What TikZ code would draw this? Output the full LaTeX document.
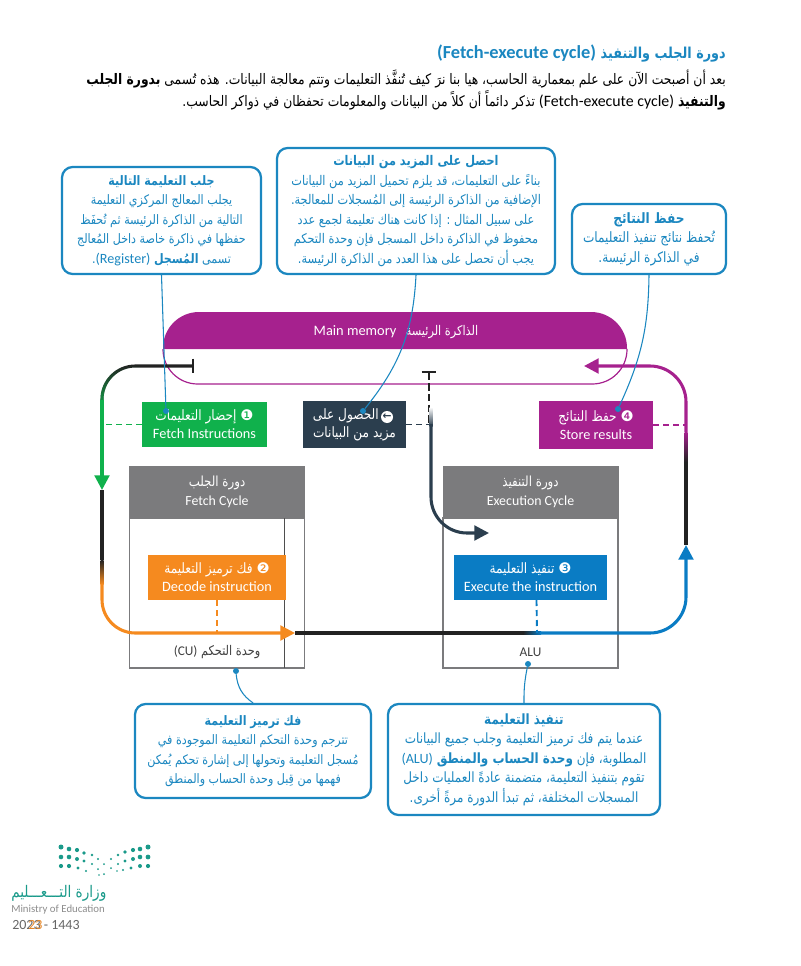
\documentclass[tikz,border=0pt]{standalone}
\usepackage{fontspec}
\setmainfont{Carlito}
\newfontfamily\arabicfont[Script=Arabic,FakeStretch=0.85]{DejaVu Sans}
\newfontfamily\symfont{DejaVu Sans}
\usetikzlibrary{arrows.meta, positioning, calc, fadings}
\TeXXeTstate=1
\setlength{\lineskiplimit}{-30pt}

\definecolor{calloutblue}{HTML}{1B87C0}
\definecolor{fetchgreen}{HTML}{10B14C}
\definecolor{decodeorange}{HTML}{F58A1F}
\definecolor{executeblue}{HTML}{0A7CC4}
\definecolor{storepurple}{HTML}{A6218E}
\definecolor{datadark}{HTML}{2B3E4E}
\definecolor{loopblack}{HTML}{222222}
\definecolor{cyclegray}{HTML}{7B7B7D}
\definecolor{logoteal}{HTML}{1A9A8A}
\newcommand{\pxu}{0.75pt}
\newcommand{\ar}[1]{{\arabicfont\beginR #1\endR}}
\newcommand{\la}[1]{\beginL{\normalfont #1}\endL{}}
\newcommand{\bd}[1]{{\symfont\fontsize{11}{11}\selectfont #1}}

\begin{document}
\begin{tikzpicture}[
    x=0.75pt, y=-0.75pt,
    infobox/.style={
        draw=calloutblue, line width=1.7pt, rounded corners=8pt,
        fill=white, align=center, text=calloutblue, inner sep=0pt
    },
    stepbox/.style={
        align=center, text=white, inner sep=0pt, outer sep=0pt,
        font=\fontsize{10.7}{13.5}\selectfont
    },
    cyclehead/.style={
        fill=cyclegray, draw=cyclegray, align=center, text=white,
        minimum width=175*\pxu, minimum height=52*\pxu,
        inner sep=0pt, outer sep=0pt,
        font=\fontsize{10.4}{14}\selectfont
    },
    cyclebody/.style={
        draw=cyclegray, line width=0.9pt, fill=white,
        minimum width=175*\pxu, minimum height=150*\pxu,
        inner sep=0pt, outer sep=0pt
    },
    unitlabel/.style={
        text=black!75, inner sep=0pt, font=\fontsize{10}{12}\selectfont
    },
    loopline/.style={line width=2.3pt},
    looparrow/.style={
        line width=2.3pt, -{Triangle[length=11pt, width=11pt]}
    },
    dashline/.style={line width=1.4pt, dash pattern=on 4.5pt off 3pt},
    callline/.style={draw=calloutblue, line width=0.8pt},
    calldot/.style={
        circle, fill=calloutblue, inner sep=0pt, minimum size=4.5pt
    }
]
\useasboundingbox (0,0) rectangle (800,966);

% --- heading and intro ---
\node[anchor=east, inner sep=0pt, text=calloutblue, font=\fontsize{11.3}{14}\selectfont\bfseries] (title) at (726,54)
  {\ar{دورة الجلب والتنفيذ \la{\bfseries\fontsize{13.8}{14}\selectfont (Fetch-execute cycle)}}};
\node[anchor=east, inner sep=0pt, align=right, font=\fontsize{10.9}{15.8}\selectfont] (intro) at (726,90)
  {\ar{بعد أن أصبحت الآن على علم بمعمارية الحاسب، هيا بنا نرَ كيف تُنفَّذ التعليمات وتتم معالجة البيانات. هذه تُسمى \textbf{بدورة الجلب}}\\
   \ar{\textbf{والتنفيذ} \la{\fontsize{11.9}{15.8}\selectfont (Fetch-execute cycle)} تذكر دائماً أن كلاً من البيانات والمعلومات تحفظان في ذواكر الحاسب.}};

% --- main memory ---
\fill[storepurple] (163,349) [rounded corners=27pt] |- (395,312) -| (627,349);
\draw[storepurple, line width=0.9pt, rounded corners=26pt] (163,349) |- (395,384) -| (627,349);
\node[text=white, inner sep=0pt, font=\fontsize{10}{12}\selectfont] (memory) at (396,332)
  {\ar{الذاكرة الرئيسة\hspace{7pt}\la{\fontsize{10.8}{12}\selectfont Main memory}}};

% --- the two cycles ---
\node[cyclehead] (fetchhead) at (217,492) {\ar{دورة الجلب}\\Fetch Cycle};
\node[cyclebody, below=0pt of fetchhead] (fetchbody) {};
\node[cyclehead] (exechead) at (530.5,492) {\ar{دورة التنفيذ}\\Execution Cycle};
\node[cyclebody, below=0pt of exechead] (execbody) {};
\draw[loopblack!80, line width=0.9pt] ($(fetchbody.north east)+(-20,0)$) -- ($(fetchbody.south east)+(-20,0)$);
\node[unitlabel] (culabel) at (217,652) {\ar{وحدة التحكم \la{(CU)}}};
\node[unitlabel] (alulabel) at (530.5,652) {ALU};

% --- loop way points ---
\coordinate (tbar) at (194,366);
\coordinate (fetchtip) at (102,490);
\coordinate (decodeend) at (102,584);
\coordinate (decodetip) at (295,633);
\coordinate (exestart) at (540,633);
\coordinate (exectip) at (686,545);
\coordinate (storestart) at (686,432);
\coordinate (storetip) at (584,366);
\coordinate (datacap) at (429,371);
\coordinate (datastart) at (431,424);
\coordinate (datatip) at (489,533);

% --- the loop, black first, then the coloured legs on top ---
\draw[loopline, loopblack, {Bar[width=11pt, line width=1.7pt]}-, rounded corners=25pt] (tbar) -| (102,402);
\draw[loopline, fetchgreen, path fading=north, rounded corners=25pt] (140,366) -| (102,410);
\draw[looparrow, fetchgreen] (102,400) -- (fetchtip);
\draw[loopline, loopblack] (fetchtip) -- (102,560);
\shade[top color=loopblack, bottom color=decodeorange] (100.5,560) rectangle (103.5,584);
\draw[looparrow, decodeorange, rounded corners=25pt] (decodeend) |- (decodetip);
\draw[loopline, loopblack] (decodetip) -- (523,633);
\shade[left color=loopblack, right color=executeblue] (523,631.5) rectangle (541,634.5);
\draw[looparrow, executeblue, rounded corners=27pt] (exestart) -| (exectip);
\draw[loopline, loopblack] (exectip) -- (686,462);
\shade[bottom color=loopblack, top color=storepurple] (684.5,432) rectangle (687.5,462);
\draw[looparrow, storepurple, rounded corners=27pt] (storestart) |- (storetip);

% --- data fetch branch ---
\draw[loopblack, line width=1.5pt, dash pattern=on 5.5pt off 2.5pt, {Bar[width=11pt, line width=1.7pt]}-] (datacap) -- (429,424);
\shade[top color=white, bottom color=datadark] (429.5,407) rectangle (432.5,426);
\draw[looparrow, datadark, rounded corners=27pt] (datastart) |- (datatip);

% --- steps ---
\node[stepbox, fill=fetchgreen, minimum width=125*\pxu, minimum height=45*\pxu] (fetch) at (204.5,424.5)
  {\ar{\bd{❶} إحضار التعليمات}\\Fetch Instructions};
\node[stepbox, fill=datadark, minimum width=103*\pxu, minimum height=47*\pxu] (getmore) at (354.5,424.5)
  {\ar{\hspace{13pt}الحصول على}\\\ar{مزيد من البيانات}};
\node[circle, fill=white, text=datadark, inner sep=0pt, minimum size=9pt, font=\symfont\bfseries\fontsize{8}{8}\selectfont] (getbadge) at (387,417) {←};
\node[stepbox, fill=storepurple, minimum width=114*\pxu, minimum height=48*\pxu] (store) at (596,425)
  {\ar{\bd{❹} حفظ النتائج}\\Store results};
\node[stepbox, fill=decodeorange, minimum width=138*\pxu, minimum height=45*\pxu] (decode) at (217,577.5)
  {\ar{\bd{❷} فك ترميز التعليمة}\\Decode instruction};
\node[stepbox, fill=executeblue, minimum width=153*\pxu, minimum height=45*\pxu] (execute) at (530.5,577.5)
  {\ar{\bd{❸} تنفيذ التعليمة}\\Execute the instruction};

% --- step ties to the loop ---
\draw[dashline, fetchgreen] (fetch.west) -- (fetch.west -| fetchtip);
\draw[dashline, datadark] (getmore.east) -- (getmore.east -| datacap);
\draw[dashline, storepurple] (store.east) -- (store.east -| storestart);
\draw[dashline, decodeorange] (decode.south) -- (decode.south |- decodetip);
\draw[dashline, executeblue] (execute.south) ++(6,0) -- (537,633);

% --- callouts ---
\node[infobox, minimum width=199*\pxu, minimum height=107*\pxu, font=\fontsize{9.8}{14.6}\selectfont] (nextbox) at (161.5,220.5)
  {\ar{\textbf{جلب التعليمة التالية}}\\
   \ar{يجلب المعالج المركزي التعليمة}\\
   \ar{التالية من الذاكرة الرئيسة ثم تُحفَظ}\\
   \ar{حفظها في ذاكرة خاصة داخل المُعالج}\\
   \ar{تسمى \textbf{المُسجل} \la{\fontsize{10.6}{14.6}\selectfont(Register)}.}};
\node[infobox, minimum width=278*\pxu, minimum height=126*\pxu, font=\fontsize{10}{14.6}\selectfont] (morebox) at (416,211)
  {\ar{\textbf{احصل على المزيد من البيانات}}\\
   \ar{بناءً على التعليمات، قد يلزم تحميل المزيد من البيانات}\\
   \ar{الإضافية من الذاكرة الرئيسة إلى المُسجلات للمعالجة.}\\
   \ar{على سبيل المثال : إذا كانت هناك تعليمة لجمع عدد}\\
   \ar{محفوظ في الذاكرة داخل المسجل فإن وحدة التحكم}\\
   \ar{يجب أن تحصل على هذا العدد من الذاكرة الرئيسة.}};
\node[infobox, minimum width=154*\pxu, minimum height=70*\pxu, font=\fontsize{10.7}{14.6}\selectfont] (savebox) at (649,239)
  {\ar{\textbf{حفظ النتائج}}\\
   \ar{تُحفظ نتائج تنفيذ التعليمات}\\
   \ar{في الذاكرة الرئيسة.}};
\node[infobox, minimum width=236*\pxu, minimum height=94*\pxu, font=\fontsize{9.8}{14.6}\selectfont] (decodebox) at (253,751)
  {\ar{\textbf{فك ترميز التعليمة}}\\
   \ar{تترجم وحدة التحكم التعليمة الموجودة في}\\
   \ar{مُسجل التعليمة وتحولها إلى إشارة تحكم يُمكن}\\
   \ar{فهمها من قِبل وحدة الحساب والمنطق}};
\node[infobox, minimum width=272*\pxu, minimum height=111*\pxu, font=\fontsize{10.6}{14.6}\selectfont] (execbox) at (524,759.5)
  {\ar{\textbf{تنفيذ التعليمة}}\\
   \ar{عندما يتم فك ترميز التعليمة وجلب جميع البيانات}\\
   \ar{المطلوبة، فإن \textbf{وحدة الحساب والمنطق} \la{(ALU)}}\\
   \ar{تقوم بتنفيذ التعليمة، متضمنة عادةً العمليات داخل}\\
   \ar{المسجلات المختلفة، ثم تبدأ الدورة مرةً أخرى.}};

% --- callout leaders ---
\node[calldot] (nextdot) at (166,411) {};
\node[calldot] (moredot) at (363,411) {};
\node[calldot] (savedot) at (618,409) {};
\node[calldot] (decodedot) at (236,671) {};
\node[calldot] (execdot) at (528,664) {};
\draw[callline] (nextbox.south) -- (nextdot);
\draw[callline] (morebox.south) to[bend left=18] (moredot);
\draw[callline] (savebox.south) to[bend left=12] (savedot);
\draw[callline] (decodebox.north) to[bend left=25] (decodedot);
\draw[callline] (execbox.north) to[bend left=6] (execdot);

% --- ministry mark ---
\foreach \dx/\dy/\dr in {61/847/2.5,69/849/2.3,77/850/2.1,84/853/1.8,92/855/1.4,118/855/1.4,125/852/1.8,133/850/2.1,140/849/2.3,148/847/2.5,
    61/857/2.3,69/857/2.3,77/859/2,84/861/1.6,92/864/1.2,98/859/1.1,111/859/1.1,118/864/1.2,125/861/1.6,133/859/2,140/857/2.3,148/857/2.4,
    61/866/2.1,69/866/2.1,78/868/1.7,86/871/1.2,98/869/1,104/864/1,111/868/1,117/871/0.9,123/870/1.2,131/868/1.6,140/866/2,148/866/2.1,
    99/875/0.9,104/874/1}
  \fill[logoteal] (\dx,\dy) circle[radius=\dr*0.75pt];
\node[anchor=west, inner sep=0pt, text=logoteal, font=\fontsize{12}{14}\selectfont] (moear) at (11,893) {\ar{وزارة التـــعـــليم}};
\node[anchor=west, inner sep=0pt, text=black!45, font=\fontsize{8.1}{9}\selectfont] (moeen) at (11,910) {Ministry of Education};
\node[anchor=west, inner sep=0pt, text=black!60, font=\fontsize{10.5}{12}\selectfont] (year) at (12,925) {2023 - 1443};
\node[anchor=west, inner sep=0pt, text=decodeorange!70!brown, font=\fontsize{10.5}{12}\selectfont] (page) at (28,925) {23};
\end{tikzpicture}
\end{document}
